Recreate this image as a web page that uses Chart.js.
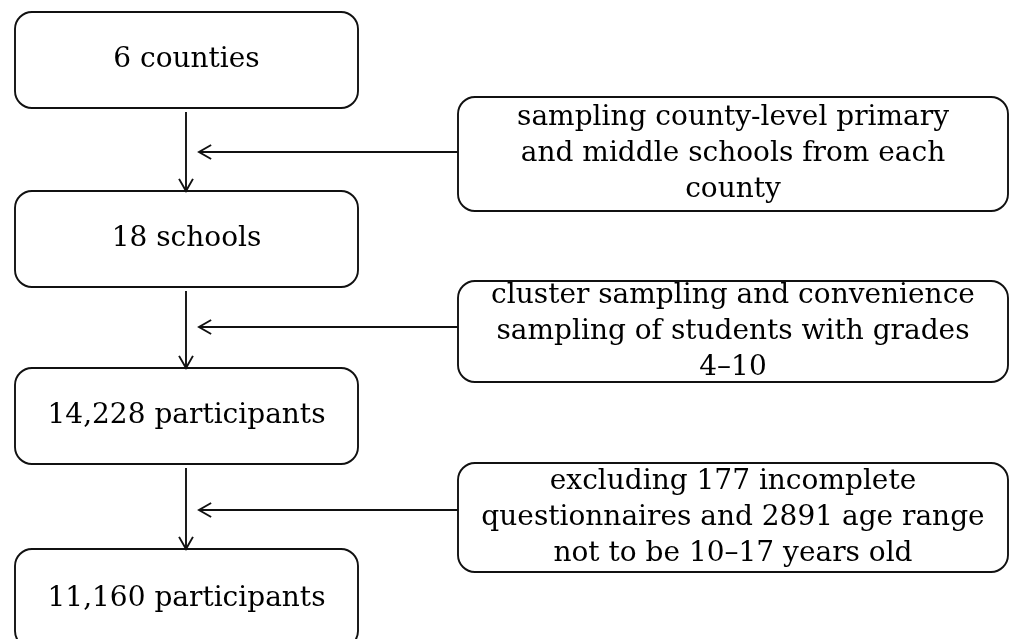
<!DOCTYPE html>
<html>
<head>
<meta charset="utf-8">
<script src="https://cdn.jsdelivr.net/npm/chart.js@4/dist/chart.umd.min.js"></script>
<style>
html,body{margin:0;padding:0;background:#fff;}
#wrap{width:1012px;height:639px;position:relative;}
</style>
</head>
<body>
<div id="wrap"><canvas id="c" width="1012" height="639"></canvas></div>
<script>
// ---- content ----
const mainSteps = ["6 counties", "18 schools", "14,228 participants", "11,160 participants"];
const sideNotes = [
  ["sampling county-level primary", "and middle schools from each", "county"],
  ["cluster sampling and convenience", "sampling of students with grades", "4\u201310"],
  ["excluding 177 incomplete", "questionnaires and 2891 age range", "not to be 10\u201317 years old"]
];

// ---- layout (in scale units, 0..1012 x 0..639) ----
const mainBoxX = [15, 358];
const mainBoxTop = [12, 191, 368, 549];
const mainBoxBottom = [108, 287, 464, 648];
const sideBoxX = [458, 1008];
const sideBoxTop = [97, 281, 463];
const sideBoxBottom = [211, 382, 572];
const arrowX = 186;
const sideArrowY = [152, 327, 510];
const sideArrowEnd = 199;

const FONT = '28px "DejaVu Serif", serif';
const LINE_H = 36;

const flowPlugin = {
  id: 'flow',
  afterDraw(chart) {
    const ctx = chart.ctx;
    const xs = chart.scales.x, ys = chart.scales.y;
    const px = v => xs.getPixelForValue(v);
    const py = v => ys.getPixelForValue(v);
    ctx.save();
    ctx.strokeStyle = '#111';
    ctx.lineWidth = 1.9;
    ctx.fillStyle = '#000';
    ctx.font = FONT;
    ctx.textAlign = 'center';
    ctx.textBaseline = 'middle';

    function box(x0, y0, x1, y1) {
      ctx.beginPath();
      ctx.roundRect(px(x0), py(y0), px(x1) - px(x0), py(y1) - py(y0), 17);
      ctx.stroke();
    }
    function arrow(x0, y0, x1, y1) {
      const X0 = px(x0), Y0 = py(y0), X1 = px(x1), Y1 = py(y1);
      ctx.beginPath(); ctx.moveTo(X0, Y0); ctx.lineTo(X1, Y1); ctx.stroke();
      const a = Math.atan2(Y1 - Y0, X1 - X0), L = 14, W = 0.52;
      ctx.beginPath();
      ctx.moveTo(X1 - L * Math.cos(a - W), Y1 - L * Math.sin(a - W));
      ctx.lineTo(X1, Y1);
      ctx.lineTo(X1 - L * Math.cos(a + W), Y1 - L * Math.sin(a + W));
      ctx.stroke();
    }

    mainSteps.forEach((t, i) => {
      box(mainBoxX[0], mainBoxTop[i], mainBoxX[1], mainBoxBottom[i]);
      const ty = i === mainSteps.length - 1 ? 599 : (mainBoxTop[i] + mainBoxBottom[i]) / 2;
      ctx.fillText(t, px((mainBoxX[0] + mainBoxX[1]) / 2), py(ty));
      if (i < mainSteps.length - 1) arrow(arrowX, mainBoxBottom[i] + 4, arrowX, mainBoxTop[i + 1]);
    });

    sideNotes.forEach((lines, i) => {
      box(sideBoxX[0], sideBoxTop[i], sideBoxX[1], sideBoxBottom[i]);
      const cx = (sideBoxX[0] + sideBoxX[1]) / 2;
      const cy = (sideBoxTop[i] + sideBoxBottom[i]) / 2;
      lines.forEach((l, k) => {
        ctx.fillText(l, px(cx), py(cy) + (k - (lines.length - 1) / 2) * LINE_H);
      });
      arrow(sideBoxX[0], sideArrowY[i], sideArrowEnd, sideArrowY[i]);
    });
    ctx.restore();
  }
};

new Chart(document.getElementById('c'), {
  type: 'scatter',
  data: { datasets: [{ data: [], pointRadius: 0 }] },
  options: {
    responsive: false,
    animation: false,
    layout: { padding: 0 },
    plugins: { legend: { display: false }, tooltip: { enabled: false } },
    scales: {
      x: { type: 'linear', min: 0, max: 1012, display: false },
      y: { type: 'linear', min: 0, max: 639, reverse: true, display: false }
    }
  },
  plugins: [flowPlugin]
});
</script>
</body>
</html>
